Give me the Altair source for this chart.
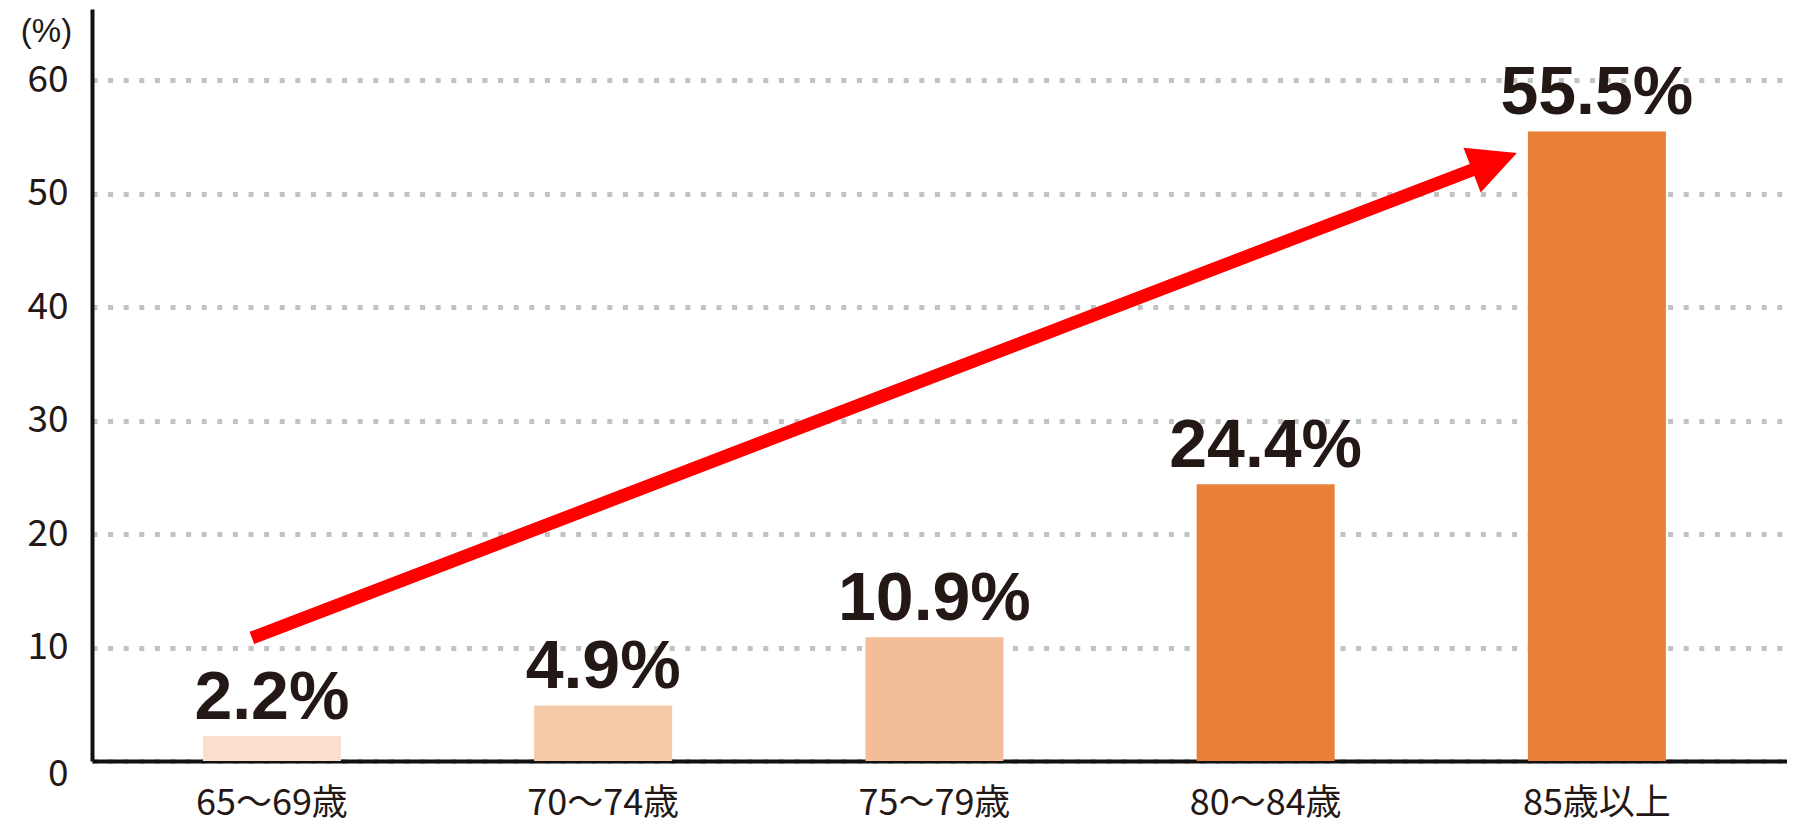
import altair as alt
import pandas as pd

# ---- data ----
categories = ["65～69歳", "70～74歳", "75～79歳", "80～84歳", "85歳以上"]
values = [2.2, 4.9, 10.9, 24.4, 55.5]
value_labels = ["2.2%", "4.9%", "10.9%", "24.4%", "55.5%"]
bar_colors = ["#FADFCD", "#F5CAA8", "#F3BD97", "#E98037", "#E98037"]
y_ticks = [0, 10, 20, 30, 40, 50, 60]

# arrow annotation (category + value)
arrow_from_cat = ["65～69歳"]
arrow_to_cat = ["85歳以上"]
arrow_from_y = [10.85]
arrow_to_y = [52.37]
arrow_head_y = [52.85]

TEXT = "#231815"
JP = "Noto Sans CJK JP"

df = pd.DataFrame({"cat": categories, "value": values,
                   "label": value_labels, "color": bar_colors})
arrow_df = pd.DataFrame({"x": arrow_from_cat, "x2": arrow_to_cat,
                         "y": arrow_from_y, "y2": arrow_to_y})
head_df = pd.DataFrame({"x": arrow_to_cat, "y": arrow_head_y})

x_scale = alt.Scale(domain=categories, paddingInner=0.5834,
                    paddingOuter=0.3502, align=0.478)
y_scale = alt.Scale(domain=[0, 66.3], nice=False, zero=True)

x_axis = alt.Axis(title=None, labelAngle=0, ticks=False, tickSize=0,
                  labelPadding=53, labelFont=JP, labelFontSize=36,
                  labelColor=TEXT, labelBaseline="alphabetic",
                  domainColor="#111111", domainWidth=4, grid=False)
y_axis = alt.Axis(values=y_ticks, title="(%)", titleAngle=0,
                  titleX=-46, titleY=22, titleAlign="center",
                  titleBaseline="middle", titleFont="Liberation Sans",
                  titleFontSize=33, titleFontWeight="normal",
                  titleColor=TEXT,
                  ticks=False, tickSize=0, labelPadding=24,
                  labelFont=JP, labelFontSize=37, labelColor=TEXT,
                  labelOffset=alt.ExprRef("datum.value == 0 ? 13 : 0"),
                  domainColor="#111111", domainWidth=4,
                  grid=True, gridColor="#C2C2C2", gridWidth=5,
                  gridDash=[5, 10.6])

base = alt.Chart(df)

bars = base.mark_bar().encode(
    x=alt.X("cat:N", scale=x_scale, sort=categories, axis=x_axis),
    y=alt.Y("value:Q", scale=y_scale, axis=y_axis),
    color=alt.Color("color:N", scale=None),
)

labels = base.mark_text(baseline="alphabetic", align="center", dy=-17,
                        font="Liberation Sans", fontWeight="bold",
                        fontSize=68, color=TEXT).encode(
    x=alt.X("cat:N", scale=x_scale, sort=categories),
    y=alt.Y("value:Q", scale=y_scale),
    text="label:N",
)

shaft = alt.Chart(arrow_df).mark_rule(
    color="#FF0000", strokeWidth=13, strokeCap="butt",
    xOffset=-20, x2Offset=-117).encode(
    x=alt.X("x:N", scale=x_scale),
    x2="x2:N",
    y=alt.Y("y:Q", scale=y_scale),
    y2="y2:Q",
)

head = alt.Chart(head_df).mark_point(
    shape="M-1,-1L1,0L-1,1Z", filled=True, size=2304, angle=339,
    color="#FF0000", opacity=1, strokeWidth=0, xOffset=-102.4).encode(
    x=alt.X("x:N", scale=x_scale),
    y=alt.Y("y:Q", scale=y_scale),
)

chart = alt.layer(bars, labels, shaft, head).properties(
    width=1695, height=752,
    autosize=alt.AutoSizeParams(type="none"),
    padding={"left": 84, "top": 1, "right": 0, "bottom": 64},
    background="white",
).configure_view(stroke=None)

chart.save("out.html", embed_options={"renderer": "svg", "actions": False})
